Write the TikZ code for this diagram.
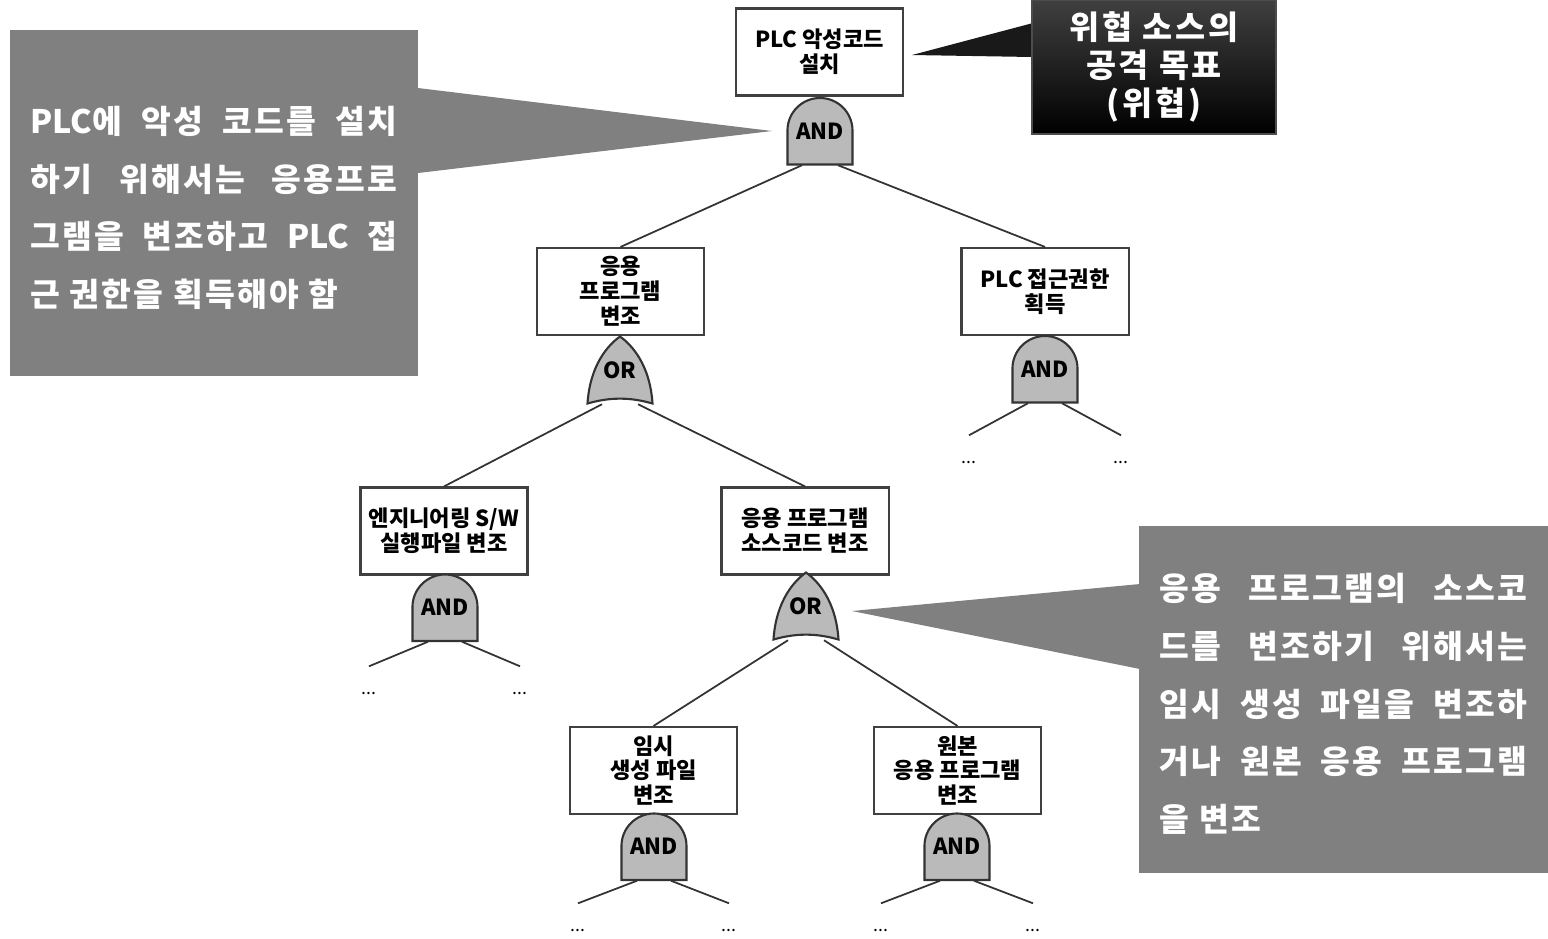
\documentclass[tikz,border=0pt]{standalone}
\usepackage{fontspec}
\setmainfont{Noto Sans CJK KR}

\tikzset{
  box/.style={draw=black!75, line width=0.6pt, fill=white, minimum width=1.67cm,
    minimum height=0.87cm, inner sep=0pt, align=center,
    font=\fontsize{6.3}{7.1}\selectfont\bfseries},
  gate/.style={minimum width=0.65cm, minimum height=0.67cm, inner sep=0pt,
    font=\fontsize{6.3}{7}\selectfont\bfseries},
  gatefill/.style={draw=black!80, line width=0.6pt, fill=black!27},
  link/.style={draw=black!80, line width=0.5pt},
  more/.style={inner sep=0pt, minimum height=0.52cm, font=\fontsize{5}{5}\selectfont},
  note/.style={fill=black!50, inner sep=0pt},
  notetext/.style={text=white, inner sep=0pt, align=left,
    font=\fontsize{9.2}{16.4}\selectfont\bfseries\addfontfeature{LetterSpace=7}},
  threat/.style={draw=black!70, top color=black!75, bottom color=black, text=white,
    inner sep=0pt, align=center, minimum width=2.44cm, minimum height=1.34cm,
    font=\fontsize{9.3}{10.7}\selectfont\bfseries\addfontfeature{LetterSpace=8}}
}

% gate symbols: name, x, y
\newcommand{\andgate}[3]{%
  \draw[gatefill] (#2,#3) ++(-32.5,-33.5) -- ++(65,0) -- ++(0,34)
    arc[start angle=0, end angle=180, radius=0.325cm] -- cycle;
  \node[gate] (#1) at (#2,#3) {AND};}
\newcommand{\orgate}[3]{%
  \begin{scope}[shift={(#2,#3)}]
    \draw[gatefill] (-32.5,-33.5) .. controls (-10,-27) and (10,-27) .. (32.5,-33.5)
      .. controls (30,5) and (12,25) .. (0,33.5)
      .. controls (-12,25) and (-30,5) .. (-32.5,-33.5) -- cycle;
  \end{scope}
  \node[gate] (#1) at (#2,#3) {OR};}
\newcommand{\jline}[1]{\makebox[3.67cm][s]{#1}}
\newcommand{\plc}{{\addfontfeature{LetterSpace=0}PLC}}

\begin{document}
\begin{tikzpicture}[x=0.01cm, y=0.01cm]
  \useasboundingbox (0,0) rectangle (1548,-938);

  % Callouts
  \fill[black!50] (418,-88) -- (772,-131) -- (418,-173) -- cycle;
  \node[note, minimum width=4.08cm, minimum height=3.46cm] (why) at (214,-203) {};
  \node[notetext] (whytext) at ([yshift=-0.05cm]why.center)
    {\jline{\plc 에 악성 코드를 설치}\\ \jline{하기 위해서는 응용프로}\\
     \jline{그램을 변조하고 \plc{} 접}\\ 근 권한을 획득해야 함\hspace{3.67cm minus 3.67cm}};
  \fill[black!50] (1140,-584) -- (852,-611) -- (1140,-669) -- cycle;
  \node[note, minimum width=4.09cm, minimum height=3.47cm] (how) at (1343.5,-699.5) {};
  \node[notetext] (howtext) at ([yshift=-0.045cm]how.center)
    {\jline{응용 프로그램의 소스코}\\ \jline{드를 변조하기 위해서는}\\
     \jline{임시 생성 파일을 변조하}\\ \jline{거나 원본 응용 프로그램}\\ 을 변조\hspace{3.67cm minus 3.67cm}};
  \fill[black!90] (1033,-23) -- (912,-55) -- (1033,-57) -- cycle;
  \node[threat] (goal) at (1154,-67) {위협 소스의\\공격 목표\\(위협)};

  % Nodes
  \node[box] (root) at (819.5,-52) {PLC 악성코드\\설치};
  \node[box] (modapp) at (620.5,-291.5) {응용\\프로그램\\변조};
  \node[box] (access) at (1045,-291.5) {PLC 접근권한\\획득};
  \node[box] (modexe) at (444,-531) {엔지니어링 S/W\\실행파일 변조};
  \node[box] (modsrc) at (805,-531) {응용 프로그램\\소스코드 변조};
  \node[box] (modtmp) at (653.5,-770.5) {임시\\생성 파일\\변조};
  \node[box] (modorg) at (957.5,-770.5) {원본\\응용 프로그램\\변조};

  % Gates
  \andgate{g0}{820}{-131}
  \orgate{g1}{620}{-370}
  \andgate{g2}{1045}{-369}
  \andgate{g3}{445}{-607.5}
  \orgate{g4}{806}{-606}
  \andgate{g5}{654}{-846.5}
  \andgate{g6}{957}{-846.5}

  % Open ends
  \node[more] (m2a) at (969,-462) {...};
  \node[more] (m2b) at (1121,-462) {...};
  \node[more] (m3a) at (369,-693) {...};
  \node[more] (m3b) at (520,-693) {...};
  \node[more] (m5a) at (578,-930) {...};
  \node[more] (m5b) at (729,-930) {...};
  \node[more] (m6a) at (881,-930) {...};
  \node[more] (m6b) at (1033,-930) {...};

  % Links
  \draw[link] ([xshift=-0.18cm]g0.south) -- (modapp.north);
  \draw[link] ([xshift=0.18cm]g0.south) -- (access.north);
  \draw[link] ([xshift=-0.18cm]g1.south) -- (modexe.north);
  \draw[link] ([xshift=0.18cm]g1.south) -- (modsrc.north);
  \draw[link] ([xshift=-0.18cm]g4.south) -- (modtmp.north);
  \draw[link] ([xshift=0.18cm]g4.south) -- (modorg.north);
  \draw[link] ([xshift=-0.17cm]g2.south) -- (m2a.north);
  \draw[link] ([xshift=0.17cm]g2.south) -- (m2b.north);
  \draw[link] ([xshift=-0.17cm]g3.south) -- (m3a.north);
  \draw[link] ([xshift=0.17cm]g3.south) -- (m3b.north);
  \draw[link] ([xshift=-0.17cm]g5.south) -- (m5a.north);
  \draw[link] ([xshift=0.17cm]g5.south) -- (m5b.north);
  \draw[link] ([xshift=-0.17cm]g6.south) -- (m6a.north);
  \draw[link] ([xshift=0.17cm]g6.south) -- (m6b.north);
\end{tikzpicture}
\end{document}
